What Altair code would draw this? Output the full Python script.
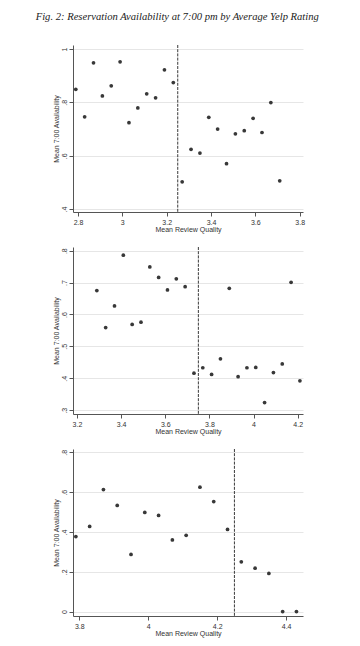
import altair as alt
import pandas as pd

# Panel 1
x1 = [2.79, 2.83, 2.87, 2.91, 2.95, 2.99, 3.03, 3.07, 3.11, 3.15, 3.19, 3.23,
      3.27, 3.31, 3.35, 3.39, 3.43, 3.47, 3.51, 3.55, 3.59, 3.63, 3.67, 3.71]
y1 = [0.849, 0.746, 0.948, 0.824, 0.862, 0.952, 0.724, 0.779, 0.832, 0.817, 0.922, 0.874,
      0.502, 0.624, 0.610, 0.744, 0.700, 0.570, 0.682, 0.694, 0.740, 0.687, 0.799, 0.506]
cut1 = [3.25]
xticks1 = [2.8, 3.0, 3.2, 3.4, 3.6, 3.8]
yticks1 = [0.4, 0.6, 0.8, 1.0]

# Panel 2
x2 = [3.29, 3.33, 3.37, 3.41, 3.45, 3.49, 3.53, 3.57, 3.61, 3.65, 3.69,
      3.73, 3.77, 3.81, 3.85, 3.89, 3.93, 3.97, 4.01, 4.05, 4.09, 4.13, 4.17, 4.21]
y2 = [0.675, 0.559, 0.627, 0.786, 0.569, 0.576, 0.749, 0.716, 0.677, 0.712, 0.687,
      0.416, 0.433, 0.412, 0.461, 0.682, 0.405, 0.433, 0.434, 0.324, 0.418, 0.445, 0.701, 0.392]
cut2 = [3.75]
xticks2 = [3.2, 3.4, 3.6, 3.8, 4.0, 4.2]
yticks2 = [0.3, 0.4, 0.5, 0.6, 0.7, 0.8]

# Panel 3
x3 = [3.79, 3.83, 3.87, 3.91, 3.95, 3.99, 4.03, 4.07, 4.11, 4.15, 4.19, 4.23,
      4.27, 4.31, 4.35, 4.39, 4.43]
y3 = [0.377, 0.428, 0.613, 0.533, 0.287, 0.498, 0.483, 0.360, 0.383, 0.625, 0.553, 0.413,
      0.250, 0.218, 0.192, 0.0, 0.0]
cut3 = [4.25]
xticks3 = [3.8, 4.0, 4.2, 4.4]
yticks3 = [0.0, 0.2, 0.4, 0.6, 0.8]

W, H = 230, 167
DOT = "#383838"
YLAB = "datum.value == 0 ? '0' : datum.value == 1 ? '1' : replace(format(datum.value, '.1f'), '0.', '.')"


def panel(xs, ys, cut, xt, yt, xdom, ydom):
    df = pd.DataFrame({"x": xs, "y": ys})
    pts = alt.Chart(df).mark_circle(size=14, color=DOT, opacity=1).encode(
        x=alt.X("x:Q",
                scale=alt.Scale(domain=xdom, nice=False, zero=False),
                axis=alt.Axis(values=xt, format=".1~f", title="Mean Review Quality",
                              grid=False, labelPadding=2, titlePadding=0)),
        y=alt.Y("y:Q",
                scale=alt.Scale(domain=ydom, nice=False, zero=False),
                axis=alt.Axis(values=yt, labelExpr=YLAB, title="Mean 7:00 Availability",
                              grid=True, labelAngle=270, labelAlign="center",
                              labelBaseline="bottom", labelPadding=2, titlePadding=1)),
    )
    rule = alt.Chart(pd.DataFrame({"c": cut})).mark_rule(
        color="#3a3a3a", strokeWidth=1, strokeDash=[3, 1.2]
    ).encode(x="c:Q")
    return alt.layer(pts, rule).properties(width=W, height=H)


p1 = panel(x1, y1, cut1, xticks1, yticks1, [2.7775, 3.815], [0.389, 1.015])
p2 = panel(x2, y2, cut2, xticks2, yticks2, [3.182, 4.224], [0.288, 0.8116])
p3 = panel(x3, y3, cut3, xticks3, yticks3, [3.7817, 4.449], [-0.022, 0.8167])

chart = alt.vconcat(p1, p2, p3, spacing=35, bounds="flush").resolve_scale(
    x="independent", y="independent"
).properties(
    title=alt.TitleParams(
        "Fig. 2: Reservation Availability at 7:00 pm by Average Yelp Rating",
        font="Liberation Serif", fontStyle="italic", fontWeight="normal",
        fontSize=10.6, color="#222", anchor="middle", dx=-1, offset=22,
    ),
    padding={"left": 27, "top": 3, "right": 5, "bottom": 5},
).configure_view(stroke=None).configure_axis(
    labelFont="Liberation Sans", titleFont="Liberation Sans",
    labelFontSize=7, titleFontSize=7, titleFontWeight="normal",
    labelColor="#333", titleColor="#333",
    domainColor="#555", tickColor="#555", tickSize=4,
    gridColor="#e6e6e6", gridWidth=1,
)

chart.save("out.html", embed_options={"renderer": "svg", "actions": False})
